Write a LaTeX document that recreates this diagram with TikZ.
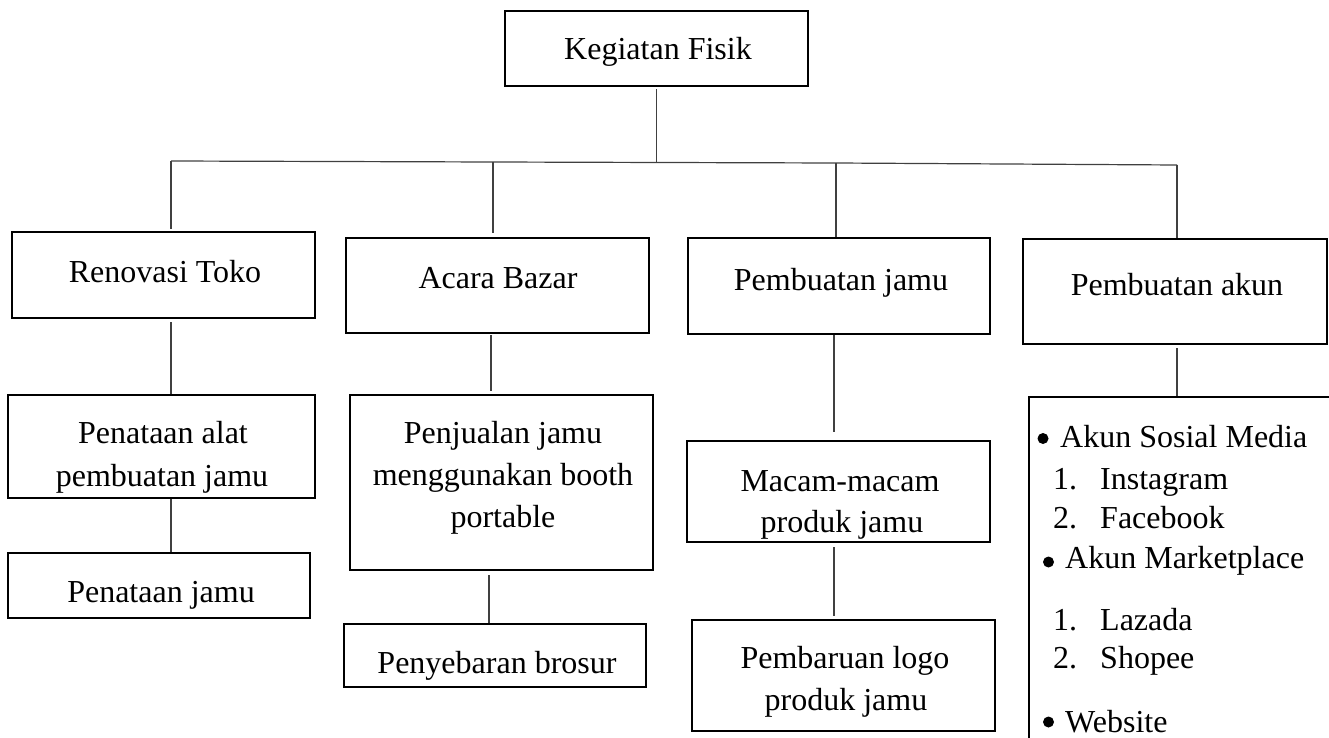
\documentclass[tikz,border=0pt]{standalone}
\usepackage{fontspec}
\setmainfont{Liberation Serif}
\begin{document}
\begin{tikzpicture}[x=1pt,y=-1pt,
  box/.style={draw, line width=2.4pt, inner sep=0pt},
  lbl/.style={anchor=base, inner sep=0pt, font=\fontsize{32}{42}\selectfont},
  itm/.style={anchor=base west, inner sep=0pt, font=\fontsize{32}{42}\selectfont},
  dot/.style={circle, fill, inner sep=0pt, minimum size=11pt},
  lk/.style={line width=1.2pt, black!75}]
\useasboundingbox (0,0) rectangle (1329,738);
\clip (0,0) rectangle (1329,738);
% boxes
\node[box, minimum width=303pt, minimum height=75pt]  (top)    at (656.5,48.5) {};
\node[box, minimum width=303pt, minimum height=86pt]  (renov)  at (163.5,275) {};
\node[box, minimum width=303pt, minimum height=95pt]  (acara)  at (497.5,285.5) {};
\node[box, minimum width=302pt, minimum height=96pt]  (pjamu)  at (839,286) {};
\node[box, minimum width=304pt, minimum height=105pt] (akun)   at (1175,291.5) {};
\node[box, minimum width=307pt, minimum height=103pt] (alat)   at (161.5,446.5) {};
\node[box, minimum width=302pt, minimum height=65pt]  (tjamu)  at (159,585.5) {};
\node[box, minimum width=303pt, minimum height=175pt] (jual)   at (501.5,482.5) {};
\node[box, minimum width=302pt, minimum height=63pt]  (brosur) at (495,655.5) {};
\node[box, minimum width=303pt, minimum height=101pt] (macam)  at (838.5,491.5) {};
\node[box, minimum width=303pt, minimum height=111pt] (baru)   at (843.5,675.5) {};
\node[box, anchor=north west, minimum width=330pt, minimum height=380pt] (list) at (1028,396) {};
% texts
\node[lbl] (t0) at (658,60) {Kegiatan Fisik};
\node[lbl] (t1) at (165,282) {Renovasi Toko};
\node[lbl] (t2) at (498,288) {Acara Bazar};
\node[lbl] (t3) at (841,290) {Pembuatan jamu};
\node[lbl] (t4) at (1177,295) {Pembuatan akun};
\node[lbl] (t5a) at (163,443) {Penataan alat};
\node[lbl] (t5b) at (162,486) {pembuatan jamu};
\node[lbl] (t6) at (161,602) {Penataan jamu};
\node[lbl] (t7a) at (503,443) {Penjualan jamu};
\node[lbl] (t7b) at (503,485) {menggunakan booth};
\node[lbl] (t7c) at (503,527) {portable};
\node[lbl] (t8) at (497,673) {Penyebaran brosur};
\node[lbl] (t9a) at (840,491) {Macam-macam};
\node[lbl] (t9b) at (842,532) {produk jamu};
\node[lbl] (t10a) at (845,668) {Pembaruan logo};
\node[lbl] (t10b) at (846,710) {produk jamu};
% list
\node[dot] (d1) at (1043,438.5) {};
\node[itm] (l1) at (1060,447) {Akun Sosial Media};
\node[itm] (l2n) at (1053,489) {1.};
\node[itm] (l2) at (1100,489) {Instagram};
\node[itm] (l3n) at (1053,528) {2.};
\node[itm] (l3) at (1100,528) {Facebook};
\node[dot] (d2) at (1048.5,562) {};
\node[itm] (l4) at (1065,568) {Akun Marketplace};
\node[itm] (l5n) at (1053,630) {1.};
\node[itm] (l5) at (1100,630) {Lazada};
\node[itm] (l6n) at (1053,668) {2.};
\node[itm] (l6) at (1100,668) {Shopee};
\node[dot] (d3) at (1048.5,722) {};
\node[itm] (l7) at (1065,732) {Website};
% connectors
\coordinate (b0) at (656.5,162.5);
\coordinate (b1) at (171,161);
\coordinate (b2) at (493,162);
\coordinate (b3) at (836,163);
\coordinate (b4) at (1177,165);
\coordinate (c2) at (491,335);
\coordinate (c3) at (489,575);
\coordinate (c4) at (834,335);
\draw[lk] ([yshift=-2pt]top.south) -- (b0);
\draw[lk] (b1) -- (b2) -- (b3) -- (b4);
\draw[lk] (b1) -- ([yshift=2pt]b1 |- renov.north);
\draw[lk] (b2) -- ([yshift=4pt]b2 |- acara.north);
\draw[lk] (b3) -- (b3 |- pjamu.north);
\draw[lk] (b4) -- (b4 |- akun.north);
\draw[lk] ([yshift=-3pt]renov.south -| b1) -- (b1 |- alat.north);
\draw[lk] (alat.south -| b1) -- (b1 |- tjamu.north);
\draw[lk] (c2) -- ([yshift=3pt]c2 |- jual.north);
\draw[lk] (c3) -- (c3 |- brosur.north);
\draw[lk] (c4) -- ([yshift=8pt]c4 |- macam.north);
\draw[lk] ([yshift=-4pt]macam.south -| c4) -- ([yshift=3pt]c4 |- baru.north);
\draw[lk] ([yshift=-3pt]akun.south -| b4) -- (b4 |- list.north);
\end{tikzpicture}
\end{document}
